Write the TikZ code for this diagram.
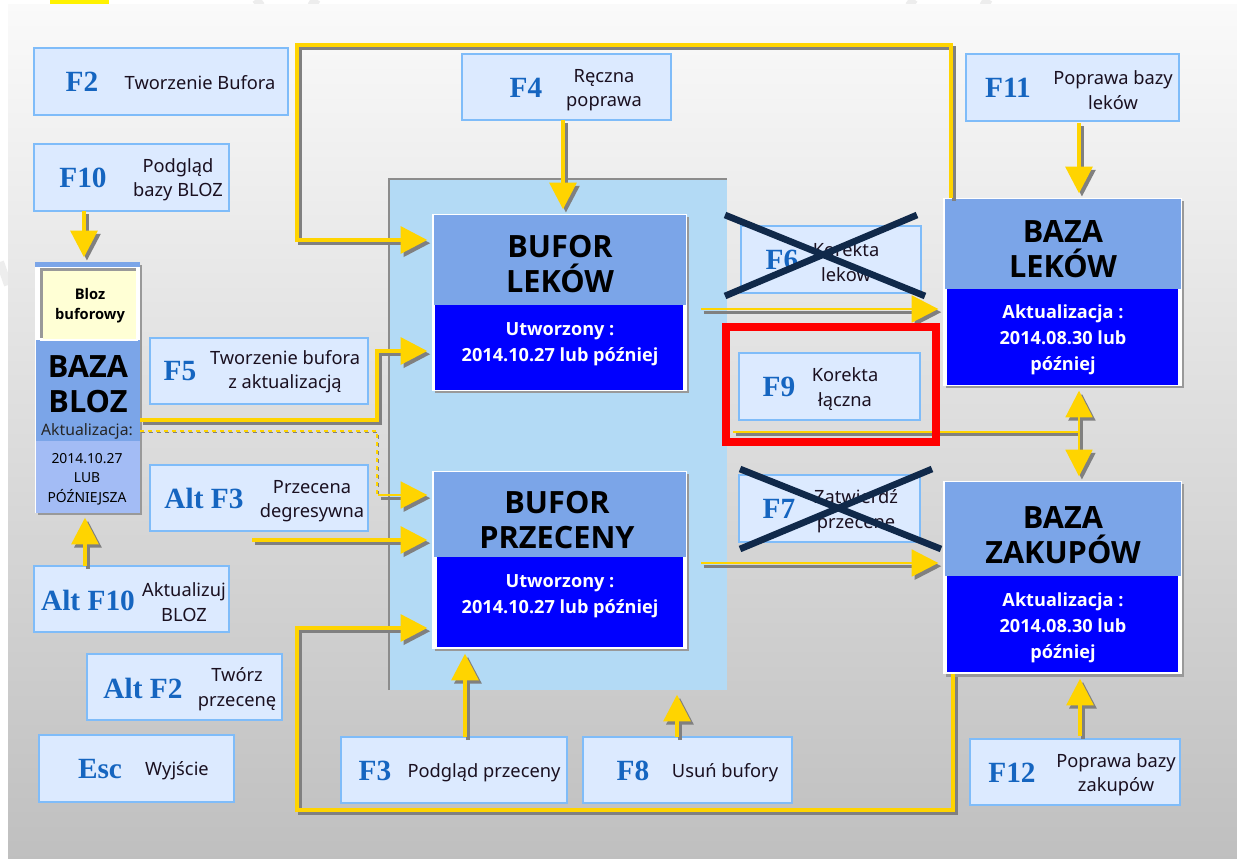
\documentclass[tikz,border=0pt]{standalone}
\usepackage{fontspec}
\setmainfont{Noto Sans}
\newfontfamily\keyfont{Liberation Serif}
\newfontfamily\hdfont{Open Sans}[BoldFont={Open Sans Bold}]
\usetikzlibrary{arrows.meta}
\definecolor{keyblue}{HTML}{1565C0}
\definecolor{boxfill}{HTML}{DCEAFF}
\definecolor{boxline}{HTML}{7FBCF9}
\definecolor{midblue}{HTML}{7BA5E8}
\definecolor{lightblue}{HTML}{A3BCF5}
\definecolor{panelc}{HTML}{B3DAF5}
\definecolor{pure}{HTML}{0000FF}
\definecolor{gold}{HTML}{FFD400}
\definecolor{crossc}{HTML}{10294A}
\definecolor{txt}{HTML}{1A1020}
\definecolor{cream}{HTML}{FFFFD5}
\tikzset{
  rectn/.style={rectangle,inner sep=0pt,outer sep=0pt,anchor=north west},
  kbox/.style={rectn,draw=boxline,fill=boxfill,line width=1.1pt},
  keyt/.style={font=\keyfont\bfseries\fontsize{22}{24}\selectfont,text=keyblue,inner sep=0pt},
  lab/.style={font=\fontsize{13.7}{18.3}\selectfont,text=txt,align=center,inner sep=0pt},
  head/.style={font=\hdfont\bfseries\fontsize{23}{26}\selectfont,text=black,align=center,inner sep=0pt},
  info/.style={font=\hdfont\bfseries\fontsize{13.6}{19.3}\selectfont,text=white,align=center,inner sep=0pt},
  connbase/.style={line width=3pt,line join=miter,shorten >=3.5pt},
  connsh/.style={connbase,draw=black!50,-{Triangle[length=20pt,width=20pt,fill=black!50]},transform canvas={xshift=2.2pt,yshift=-2.4pt}},
  conny/.style={connbase,draw=gold,-{Triangle[length=20pt,width=20pt,fill=gold]}},
  crossl/.style={draw=crossc,line width=5pt},
  water/.style={draw=black!7,line width=6pt}
}
\newcommand{\kb}[5]{\node[kbox,minimum width=#4*.75pt,minimum height=#5*.75pt] (#1) at (#2,#3) {};}
\newcommand{\conn}[2][]{\draw[connsh,#1] #2; \draw[conny,#1] #2;}
\begin{document}
\begin{tikzpicture}[x=.75pt,y=-.75pt]
\useasboundingbox (0,0) rectangle (1237,859);
\fill[white] (0,0) rectangle (1237,859);
\fill[yellow] (50,0) rectangle (109,5);
% faint watermark
\draw[water] (255,5) -- (262,0);
\draw[water] (318,5) -- (310,0);
\draw[water] (915,5) -- (908,0);
\draw[water] (990,5) -- (982,0);
\draw[water] (0,262) -- (8,285);
\shade[top color=black!2,middle color=black!11,bottom color=black!25] (8,5) rectangle (1237,859);
% panel
\node[rectn,fill=panelc,minimum width=338*.75pt,minimum height=511*.75pt] (panel) at (389,179) {};
\draw[black!45,line width=1.5pt] (panel.south west) -- (panel.north west) -- (panel.north east);

% key boxes
\kb{f2}{34}{48}{254}{67}
\kb{f10}{34}{144}{195}{67}
\kb{f5}{150}{338}{218}{66}
\kb{af3}{150}{465}{218}{66}
\kb{af10}{34}{566}{195}{66}
\kb{af2}{87}{654}{195}{66}
\kb{esc}{39}{735}{195}{67}
\kb{f3}{341}{737}{226}{66}
\kb{f8}{583}{737}{209}{66}
\kb{f4}{462}{54}{209}{66}
\kb{f11}{966}{54}{213}{67}
\kb{f12}{970}{739}{210}{66}
\kb{f6}{741}{226}{180}{67}
\kb{f9}{739}{353}{181}{67}
\kb{f7}{739}{475}{181}{67}

\node[keyt] (f2k) at (82,82) {F2};
\node[lab] (f2t) at (200,83) {Tworzenie Bufora};
\node[keyt] (f10k) at (83,178) {F10};
\node[lab] (f10t) at (178,180) {Podgląd\\bazy BLOZ};
\node[keyt] (f5k) at (180,371) {F5};
\node[lab] (f5t) at (285,372) {Tworzenie bufora\\z aktualizacją};
\node[keyt] (af3k) at (204,498) {Alt F3};
\node[lab] (af3t) at (312,501) {Przecena\\degresywna};
\node[keyt] (af10k) at (88,600) {Alt F10};
\node[lab] (af10t) at (184,602) {Aktualizuj\\BLOZ};
\node[keyt] (af2k) at (143,688) {Alt F2};
\node[lab] (af2t) at (237,689) {Twórz\\przecenę};
\node[keyt] (esck) at (100,769) {Esc};
\node[lab] (esct) at (177,771) {Wyjście};
\node[keyt] (f3k) at (375,771) {F3};
\node[lab] (f3t) at (484,773) {Podgląd przeceny};
\node[keyt] (f8k) at (633,771) {F8};
\node[lab] (f8t) at (725,773) {Usuń bufory};
\node[keyt] (f4k) at (526,88) {F4};
\node[lab] (f4t) at (604,90) {Ręczna\\poprawa};
\node[keyt] (f11k) at (1008,88) {F11};
\node[lab] (f11t) at (1113,90) {Poprawa bazy\\leków};
\node[keyt] (f12k) at (1012,773) {F12};
\node[lab] (f12t) at (1116,775) {Poprawa bazy\\zakupów};
\node[keyt] (f6k) at (782,260) {F6};
\node[lab] (f6t) at (846,262) {Korekta\\leków};
\node[keyt] (f9k) at (779,387) {F9};
\node[lab] (f9t) at (845,389) {Korekta\\łączna};
\node[keyt] (f7k) at (779,509) {F7};
\node[lab] (f7t) at (856,511) {Zatwierdź\\przecenę};

% BLOZ stack
\fill[black!40] (38,265) rectangle (142,515);
\node[rectn,fill=white,minimum width=105*.75pt,minimum height=251*.75pt] (bloz) at (35,262) {};
\fill[midblue] (35,262) rectangle (140,267);
\fill[midblue] (36,340) rectangle (140,441);
\fill[lightblue] (36,441) rectangle (140,513);
\fill[white] (40,268) rectangle (138,341);
\fill[black!40] (40,268) rectangle (136,338);
\node[rectn,fill=cream,minimum width=93*.75pt,minimum height=68*.75pt] (blozb) at (43,271) {};
\node[font=\hdfont\bfseries\fontsize{11}{14.8}\selectfont,align=center,inner sep=0pt] (blozbt) at (90,306) {Bloz\\buforowy};
\node[head] (blozh) at (88,384) {BAZA\\BLOZ};
\node[font=\fontsize{11.8}{12}\selectfont,text=black!85,inner sep=0pt] (blozakt) at (87,431) {Aktualizacja:};
\node[font=\fontsize{10.4}{14.6}\selectfont,align=center,inner sep=0pt] (blozd) at (87,479) {2014.10.27\\LUB\\PÓŹNIEJSZA};

% buffers and bases
\fill[black!40] (435,217) rectangle (689,393);
\node[rectn,fill=white,minimum width=255*.75pt,minimum height=177*.75pt] (bl) at (432,214) {};
\fill[midblue] (434,215) rectangle (686,305);
\fill[pure] (435,305) rectangle (683,390);
\node[head] (blh) at (560,264) {BUFOR\\LEKÓW};
\node[info] (bli) at (560,344) {Utworzony :\\2014.10.27 lub później};

\fill[black!40] (435,474) rectangle (689,651);
\node[rectn,fill=white,minimum width=255*.75pt,minimum height=178*.75pt] (bp) at (432,471) {};
\fill[midblue] (434,472) rectangle (686,557);
\fill[pure] (437,557) rectangle (683,647);
\node[head] (bph) at (557,520) {BUFOR\\PRZECENY};
\node[info] (bpi) at (560,596) {Utworzony :\\2014.10.27 lub później};

\fill[black!40] (946,201) rectangle (1184,388);
\node[rectn,fill=white,minimum width=239*.75pt,minimum height=188*.75pt] (bzl) at (943,198) {};
\fill[midblue] (945,199) rectangle (1181,289);
\fill[pure] (947,289) rectangle (1178,385);
\node[head] (bzlh) at (1063,249) {BAZA\\LEKÓW};
\node[info] (bzli) at (1063,340) {Aktualizacja :\\2014.08.30 lub\\później};

\fill[black!40] (946,484) rectangle (1184,677);
\node[rectn,fill=white,minimum width=239*.75pt,minimum height=193*.75pt] (bzz) at (943,481) {};
\fill[midblue] (945,482) rectangle (1181,576);
\fill[pure] (947,576) rectangle (1178,672);
\node[head] (bzzh) at (1063,535) {BAZA\\ZAKUPÓW};
\node[info] (bzzi) at (1063,628) {Aktualizacja :\\2014.08.30 lub\\później};

% connector ends
\path (f11.south -| 1079,0) ++(0,2) coordinate (f11out);
\path (f12.north -| 1080,0) ++(0,-3) coordinate (f12out);
\path (af3.south -| 252,0) ++(0,9) coordinate (af3out);
\path (bl.east |- 0,309) ++(14,0) coordinate (blout);
\path (bp.east |- 0,563) ++(14,0) coordinate (bpout);
\coordinate (f9out) at (733,432);
\coordinate (f9mid) at (1079,432);

% connectors
\conn{(bzl.north -| 951,0) -- (951,45) -- (297,45) -- (297,240) -- (bl.west |- 0,240)}
\conn{(bzz.south -| 953,0) -- (953,810) -- (297,810) -- (297,628) -- (bp.west |- 0,628)}
\conn{(f4.south -| 563,0) -- (bl.north -| 563,0)}
\conn{(f10.south -| 84,0) -- (bloz.north -| 84,0)}
\conn{(af10.north -| 85,0) -- (bloz.south -| 85,0)}
\conn{(bloz.east |- 0,420) -- (377,420) -- (377,351) -- (bl.west |- 0,351)}
% dashed link
\draw[draw=black!50,line width=1.2pt,dashed,transform canvas={xshift=1pt,yshift=-1pt}] (bloz.east |- 0,431) -- (377,431) -- (377,495);
\draw[draw=gold,line width=1.2pt,dashed] (bloz.east |- 0,431) -- (377,431) -- (377,495);
\conn[line width=2pt]{(378,495) -- (bp.west |- 0,495)}
\conn{(af3out) -- (bp.west |- 0,540)}
\conn{(f3.north -| 465,0) -- (bp.south -| 465,0)}
\conn{(f8.north -| 677,0) -- (panel.south -| 677,0)}
\conn{(f11out) -- (bzl.north -| 1079,0)}
\conn{(f12out) -- (bzz.south -| 1080,0)}
\conn[line width=2.2pt]{(blout) -- (bzl.west |- 0,309)}
\conn[line width=2.2pt]{(bpout) -- (bzz.west |- 0,563)}
% F9 line and double arrow
\draw[draw=black!50,line width=2.2pt,transform canvas={xshift=2pt,yshift=-2pt}] (f9out) -- (f9mid);
\draw[draw=gold,line width=2.2pt] (f9out) -- (f9mid);
\conn[line width=2.2pt]{(f9mid) -- (bzl.south -| 1079,0)}
\conn[line width=2.2pt]{(f9mid) -- (bzz.north -| 1079,0)}

% crosses
\draw[crossl] (725,215) -- (925,296);
\draw[crossl] (725,296) -- (917,215);
\draw[crossl] (740,469) -- (941,549);
\draw[crossl] (740,549) -- (932,469);
% red frame
\draw[red,line width=6pt] (726,327) rectangle (936,442);
\end{tikzpicture}
\end{document}
